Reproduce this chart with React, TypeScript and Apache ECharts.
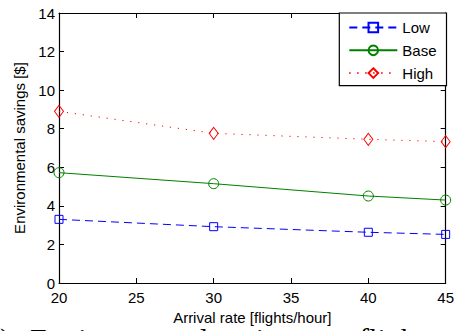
import React, { useEffect, useRef } from "react";
import * as echarts from "echarts";

const arrivalRates = [20, 30, 40, 45];
const lowSavings = [3.3, 2.92, 2.63, 2.52];
const baseSavings = [5.72, 5.15, 4.51, 4.3];
const highSavings = [8.9, 7.76, 7.45, 7.33];
const seriesNames = ["Low", "Base", "High"];

const FONT = "Liberation Sans, Arial, Helvetica, sans-serif";

export default function App() {
  const ref = useRef<HTMLDivElement>(null);
  useEffect(() => {
    if (!ref.current) return;
    const chart = echarts.init(ref.current, null, { renderer: "svg" });
    const pair = (ys: number[]) => arrivalRates.map((x, i) => [x, ys[i]]);
    const axisCommon = {
      axisLine: { show: true, onZero: false, lineStyle: { color: "#000", width: 1.2 } },
      axisTick: { show: true, inside: true, length: 5, lineStyle: { color: "#000" } },
      splitLine: { show: false },
    };
    chart.setOption({
      animation: false,
      backgroundColor: "#fff",
      textStyle: { fontFamily: FONT },
      grid: { left: 59, top: 13, right: 10.5, bottom: 48, containLabel: false },
      legend: {
        data: seriesNames,
        orient: "vertical",
        right: 10.5,
        top: 13,
        padding: [7, 10, 5, 9],
        itemGap: 7.8,
        itemWidth: 48,
        itemHeight: 12,
        backgroundColor: "#fff",
        borderColor: "#000",
        borderWidth: 1.2,
        borderRadius: 0,
        textStyle: { fontSize: 15, color: "#000", fontFamily: FONT, lineHeight: 15 },
      },
      xAxis: [
        {
          type: "value",
          min: 20,
          max: 45,
          interval: 5,
          position: "bottom",
          name: "Arrival rate [flights/hour]",
          nameLocation: "middle",
          nameGap: 25,
          nameTextStyle: { fontSize: 15, color: "#000", fontFamily: FONT },
          axisLabel: { fontSize: 15, color: "#000", margin: 7, fontFamily: FONT },
          ...axisCommon,
        },
        {
          type: "value",
          min: 20,
          max: 45,
          interval: 5,
          position: "top",
          axisLabel: { show: false },
          ...axisCommon,
        },
      ],
      yAxis: [
        {
          type: "value",
          min: 0,
          max: 14,
          interval: 2,
          position: "left",
          name: "Environmental savings [$]",
          nameLocation: "middle",
          nameGap: 30,
          nameTextStyle: { fontSize: 15, color: "#000", fontFamily: FONT },
          axisLabel: { fontSize: 15, color: "#000", margin: 4, fontFamily: FONT },
          ...axisCommon,
        },
        {
          type: "value",
          min: 0,
          max: 14,
          interval: 2,
          position: "right",
          axisLabel: { show: false },
          ...axisCommon,
        },
      ],
      series: [
        {
          name: seriesNames[0],
          type: "line",
          data: pair(lowSavings),
          symbol: "rect",
          symbolSize: 8,
          lineStyle: { color: "#0000ff", width: 1, type: [8, 5] },
          itemStyle: { color: "transparent", borderColor: "#0000ff", borderWidth: 1 },
          z: 3,
        },
        {
          name: seriesNames[1],
          type: "line",
          data: pair(baseSavings),
          symbol: "circle",
          symbolSize: 10,
          lineStyle: { color: "#008000", width: 1, type: "solid" },
          itemStyle: { color: "transparent", borderColor: "#008000", borderWidth: 1 },
          z: 3,
        },
        {
          name: seriesNames[2],
          type: "line",
          data: pair(highSavings),
          symbol: "diamond",
          symbolSize: [9, 12],
          lineStyle: { color: "#ff0000", width: 1, type: [1.2, 6.8] },
          itemStyle: { color: "transparent", borderColor: "#ff0000", borderWidth: 1 },
          z: 3,
        },
      ],
      graphic: [
        {
          type: "text",
          left: 0,
          top: 323,
          style: {
            text: ")",
            font: "30px 'Liberation Serif', 'Times New Roman', serif",
            fill: "#000",
          },
        },
        {
          type: "text",
          left: 30,
          top: 323,
          style: {
            text: "Environmental savings per flight",
            font: "30px 'Liberation Serif', 'Times New Roman', serif",
            fill: "#000",
          },
        },
      ],
    });
    return () => chart.dispose();
  }, []);
  return (
    <div
      ref={ref}
      style={{ position: "fixed", left: 0, top: 0, width: 457, height: 331, background: "#fff" }}
    />
  );
}
